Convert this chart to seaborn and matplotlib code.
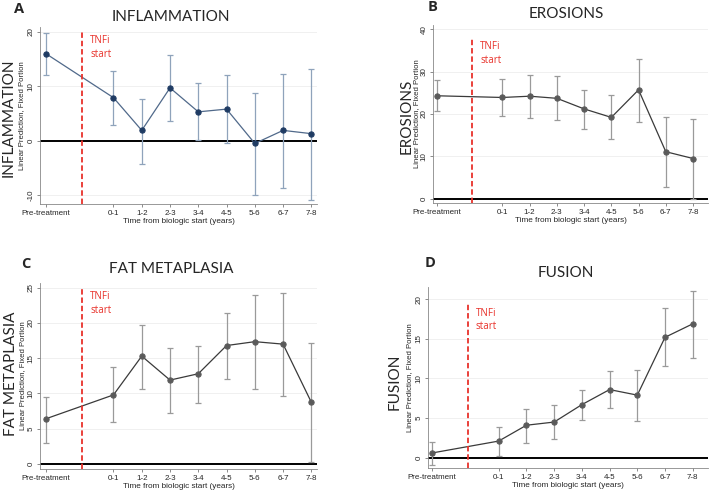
import numpy as np
import pandas as pd
import matplotlib.pyplot as plt
import seaborn as sns

# Time periods and their x positions (pre-treatment set apart from follow-up)
periods = ['Pre-treatment', '0-1', '1-2', '2-3', '3-4', '4-5', '5-6', '6-7', '7-8']
x_pos = [-1.4, 1, 2, 3, 4, 5, 6, 7, 8]
tnfi_x = -0.12

# Linear prediction (fixed portion) with 95% CI
inflam = [16.0, 7.9, 1.9, 9.7, 5.3, 5.8, -0.5, 1.9, 1.3]
inflam_lo = [12.1, 2.9, -4.2, 3.7, 0.1, -0.4, -9.9, -8.6, -10.9]
inflam_hi = [19.7, 12.8, 7.7, 15.8, 10.5, 12.0, 8.7, 12.3, 13.2]

erosion = [24.3, 23.9, 24.2, 23.7, 21.2, 19.2, 25.7, 11.1, 9.5]
erosion_lo = [20.6, 19.6, 19.1, 18.5, 16.5, 14.0, 18.1, 2.8, 0.0]
erosion_hi = [28.0, 28.3, 29.3, 28.9, 25.7, 24.4, 33.0, 19.4, 18.9]

fat = [6.4, 9.8, 15.3, 11.9, 12.8, 16.8, 17.35, 17.0, 8.75]
fat_lo = [3.0, 5.9, 10.7, 7.3, 8.7, 12.1, 10.7, 9.6, 0.3]
fat_hi = [9.55, 13.7, 19.7, 16.4, 16.8, 21.4, 23.9, 24.3, 17.2]

fusion = [0.6, 2.1, 4.1, 4.5, 6.7, 8.6, 7.9, 15.2, 16.9]
fusion_lo = [-0.9, 0.2, 1.9, 2.3, 4.8, 6.3, 4.6, 11.6, 12.6]
fusion_hi = [2.0, 3.9, 6.2, 6.7, 8.6, 10.9, 11.1, 18.9, 21.1]

sns.set_theme(style='white')
plt.rcParams['font.family'] = ['Liberation Sans', 'DejaVu Sans']

W, H = 709, 494
fig = plt.figure(figsize=(W / 100, H / 100), dpi=100)


def px_axes(x0, y0, x1, y1):
    return fig.add_axes([x0 / W, 1 - y1 / H, (x1 - x0) / W, (y1 - y0) / H])


panels = [
    dict(letter='A', title='INFLAMMATION', y=inflam, lo=inflam_lo, hi=inflam_hi,
         box=(40, 27, 317, 204), ylim=(-11.6, 20.86), ticks=[-10, 0, 10, 20],
         xlim=(-1.6, 8.2), vtop=20.0, big=(9, 118), let=(14, 9), tpos=(171, 17),
         lab_x=-0.054, mcol='#1f3b63', lcol='#50698a', ecol='#8fa3bb'),
    dict(letter='B', title='EROSIONS', y=erosion, lo=erosion_lo, hi=erosion_hi,
         box=(433, 25, 708, 203), ylim=(-1.0, 41.0), ticks=[0, 10, 20, 30, 40],
         xlim=(-1.55, 8.55), vtop=38.0, big=(407, 116), let=(428, 7), tpos=(566, 14),
         lab_x=-0.047, mcol='#5a5a5a', lcol='#3a3a3a', ecol='#9a9a9a'),
    dict(letter='C', title='FAT METAPLASIA', y=fat, lo=fat_lo, hi=fat_hi,
         box=(40, 283, 317, 469), ylim=(-0.71, 25.67), ticks=[0, 5, 10, 15, 20, 25],
         xlim=(-1.6, 8.2), vtop=25.0, big=(11, 374), let=(21, 264), tpos=(171, 269),
         lab_x=-0.052, mcol='#5a5a5a', lcol='#3a3a3a', ecol='#9a9a9a'),
    dict(letter='D', title='FUSION', y=fusion, lo=fusion_lo, hi=fusion_hi,
         box=(428, 287, 708, 468), ylim=(-1.3, 21.55), ticks=[0, 5, 10, 15, 20],
         xlim=(-1.55, 8.55), vtop=19.4, big=(395, 382), let=(425, 263), tpos=(566, 273),
         lab_x=-0.052, mcol='#5a5a5a', lcol='#3a3a3a', ecol='#9a9a9a'),
]

for p in panels:
    ax = px_axes(*p['box'])
    df = pd.DataFrame({'x': x_pos, 'y': p['y'], 'lo': p['lo'], 'hi': p['hi']})

    for t in p['ticks']:
        ax.axhline(t, color='#eeeeee', lw=0.6, zorder=0)
    ax.axhline(0, color='black', lw=1.4, zorder=1)

    ax.errorbar(df['x'], df['y'], yerr=[df['y'] - df['lo'], df['hi'] - df['y']],
                fmt='none', ecolor=p['ecol'], elinewidth=0.9, capsize=2.2,
                capthick=0.9, zorder=2)
    sns.lineplot(data=df, x='x', y='y', ax=ax, color=p['lcol'], lw=0.9,
                 marker='o', markersize=3.8, markerfacecolor=p['mcol'],
                 markeredgecolor=p['mcol'], zorder=3)

    ax.vlines(tnfi_x, p['ylim'][0], p['vtop'], colors='#e8322b',
              linestyles=(0, (3, 1.6)), lw=1.3, zorder=4)
    span = p['ylim'][1] - p['ylim'][0]
    ax.text(tnfi_x + 0.3, p['vtop'] - 0.02 * span, 'TNFi\nstart', color='#e8322b',
            fontsize=7, va='top', ha='left', family=['Open Sans', 'DejaVu Sans'],
            linespacing=1.3)

    ax.set_xlim(*p['xlim'])
    ax.set_ylim(*p['ylim'])
    ax.set_xticks(x_pos)
    ax.set_xticklabels(periods, fontsize=5.8)
    ax.set_yticks(p['ticks'])
    ax.set_yticklabels([str(t) for t in p['ticks']], fontsize=5.8,
                       rotation=90, va='center')
    ax.tick_params(axis='both', length=2.5, width=0.6, color='#777777',
                   pad=1.5, direction='out', bottom=True, left=True)
    ax.set_xlabel('Time from biologic start (years)', fontsize=5.9, labelpad=1)
    ax.set_ylabel('Linear Prediction, Fixed Portion', fontsize=5.6)
    ax.yaxis.set_label_coords(p['lab_x'], 0.5)
    for side in ['top', 'right']:
        ax.spines[side].set_visible(False)
    for side in ['left', 'bottom']:
        ax.spines[side].set_color('#888888')
        ax.spines[side].set_linewidth(0.6)

    fig.text(p['tpos'][0] / W, 1 - p['tpos'][1] / H, p['title'], fontsize=11,
             ha='center', va='center', family=['Lato', 'DejaVu Sans'])
    fig.text(p['big'][0] / W, 1 - p['big'][1] / H, p['title'], fontsize=11,
             rotation=90, ha='center', va='center', family=['Lato', 'DejaVu Sans'])
    fig.text(p['let'][0] / W, 1 - p['let'][1] / H, p['letter'], fontsize=10.5,
             fontweight='bold', ha='left', va='center',
             family=['Open Sans', 'DejaVu Sans'])

fig.savefig('out.png', dpi=100)
